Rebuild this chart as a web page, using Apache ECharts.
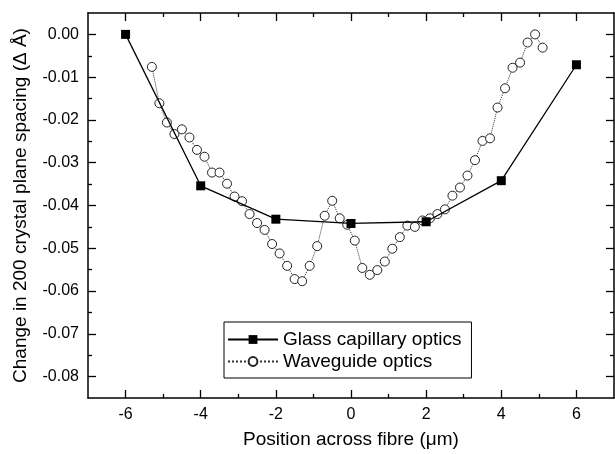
<!DOCTYPE html>
<html>
<head>
<meta charset="utf-8">
<script src="https://cdn.jsdelivr.net/npm/echarts@6/dist/echarts.min.js"></script>
<style>
  html, body { margin: 0; padding: 0; background: #fff; }
  #chart { width: 615px; height: 454px; }
</style>
</head>
<body>
<div id="chart"></div>
<script>
// tick positions
var xMajor = [-6, -4, -2, 0, 2, 4, 6];
var xMinor = [-5, -3, -1, 1, 3, 5];
var yMajor = [0, -0.01, -0.02, -0.03, -0.04, -0.05, -0.06, -0.07, -0.08];
var yMinor = [-0.005, -0.015, -0.025, -0.035, -0.045, -0.055, -0.065, -0.075];

// glass capillary optics (squares)
var glassX = [-6, -4, -2, 0, 2, 4, 6];
var glassY = [0, -0.0354, -0.0432, -0.0442, -0.0438, -0.0342, -0.0071];

// waveguide optics (open circles)
var waveX = [-5.3, -5.1, -4.9, -4.7, -4.5, -4.3, -4.1, -3.9, -3.7, -3.5,
             -3.3, -3.1, -2.9, -2.7, -2.5, -2.3, -2.1, -1.9, -1.7, -1.5,
             -1.3, -1.1, -0.9, -0.7, -0.5, -0.3, -0.1, 0.1, 0.3, 0.5,
             0.7, 0.9, 1.1, 1.3, 1.5, 1.7, 1.9, 2.1, 2.3, 2.5,
             2.7, 2.9, 3.1, 3.3, 3.5, 3.7, 3.9, 4.1, 4.3, 4.5,
             4.7, 4.9, 5.1];
var waveY = [-0.0076, -0.0161, -0.0206, -0.0233, -0.0222, -0.0241, -0.0270, -0.0286, -0.0323, -0.0323,
             -0.0349, -0.0379, -0.0390, -0.0420, -0.0441, -0.0457, -0.0490, -0.0512, -0.0541, -0.0572,
             -0.0577, -0.0541, -0.0495, -0.0424, -0.0389, -0.0430, -0.0445, -0.0482, -0.0546, -0.0562,
             -0.0551, -0.0531, -0.0501, -0.0474, -0.0447, -0.0450, -0.0435, -0.0430, -0.0420, -0.0409,
             -0.0377, -0.0358, -0.0330, -0.0294, -0.0249, -0.0243, -0.0171, -0.0126, -0.0078, -0.0066,
             -0.0019, 0.0000, -0.0031];

function pairs(xs, ys) {
    var out = [];
    for (var i = 0; i < xs.length; i++) out.push([xs[i], ys[i]]);
    return out;
}

var fontName = 'Liberation Sans, Arial, sans-serif';
var axisColor = '#000';

// one axis per box side and tick size, ticks given by list
function xAxisFor(pos, ticks, len, withLine, withLabel) {
    return {
        type: 'value', position: pos, min: -7, max: 7,
        axisLine: { show: withLine, onZero: false, lineStyle: { color: axisColor, width: 1.5 } },
        axisTick: { show: true, inside: true, length: len, customValues: ticks,
                    lineStyle: { color: axisColor, width: 1.3 } },
        axisLabel: { show: withLabel, customValues: ticks, color: '#000', fontSize: 16,
                     fontFamily: fontName, margin: 9 },
        splitLine: { show: false }
    };
}
function yAxisFor(pos, ticks, len, withLine, withLabel) {
    return {
        type: 'value', position: pos, min: -0.085, max: 0.005,
        axisLine: { show: withLine, onZero: false, lineStyle: { color: axisColor, width: 1.5 } },
        axisTick: { show: true, inside: true, length: len, customValues: ticks,
                    lineStyle: { color: axisColor, width: 1.3 } },
        axisLabel: { show: withLabel, customValues: ticks, color: '#000', fontSize: 16,
                     fontFamily: fontName, margin: 9,
                     formatter: function (v) { return v.toFixed(2); } },
        splitLine: { show: false }
    };
}

var xBottom = xAxisFor('bottom', xMajor, 8, true, true);
xBottom.name = 'Position across fibre (\u03bcm)';
xBottom.nameLocation = 'middle';
xBottom.nameGap = 32;
xBottom.nameTextStyle = { color: '#000', fontSize: 19, fontFamily: fontName };

var yLeft = yAxisFor('left', yMajor, 8, true, true);
yLeft.name = 'Change in 200 crystal plane spacing (\u0394 \u00c5)';
yLeft.nameLocation = 'middle';
yLeft.nameGap = 58;
yLeft.nameTextStyle = { color: '#000', fontSize: 19, fontFamily: fontName };

var chart = echarts.init(document.getElementById('chart'), null, { renderer: 'canvas' });

chart.setOption({
    animation: false,
    backgroundColor: '#fff',
    grid: { left: 88, right: 1, top: 13, bottom: 55 },
    xAxis: [
        xBottom,
        xAxisFor('bottom', xMinor, 4, false, false),
        xAxisFor('top', xMajor, 8, true, false),
        xAxisFor('top', xMinor, 4, false, false)
    ],
    yAxis: [
        yLeft,
        yAxisFor('left', yMinor, 4, false, false),
        yAxisFor('right', yMajor, 8, true, false),
        yAxisFor('right', yMinor, 4, false, false)
    ],
    legend: {
        orient: 'vertical',
        left: 224, top: 322,
        padding: [8, 10, 7, 3],
        backgroundColor: '#fff',
        borderColor: '#000', borderWidth: 1,
        itemWidth: 50, itemHeight: 11, itemGap: 3,
        textStyle: { color: '#000', fontSize: 19, fontFamily: fontName, lineHeight: 19 },
        data: ['Glass capillary optics', 'Waveguide optics']
    },
    series: [
        {
            name: 'Waveguide optics', type: 'line',
            data: pairs(waveX, waveY),
            symbol: 'circle', symbolSize: 9,
            itemStyle: { color: '#fff', borderColor: '#222', borderWidth: 1 },
            lineStyle: { color: '#333', width: 1, type: 'dotted' },
            z: 2
        },
        {
            name: 'Glass capillary optics', type: 'line',
            data: pairs(glassX, glassY),
            symbol: 'rect', symbolSize: 9,
            itemStyle: { color: '#000' },
            lineStyle: { color: '#000', width: 1.3 },
            z: 3
        }
    ]
});
</script>
</body>
</html>
